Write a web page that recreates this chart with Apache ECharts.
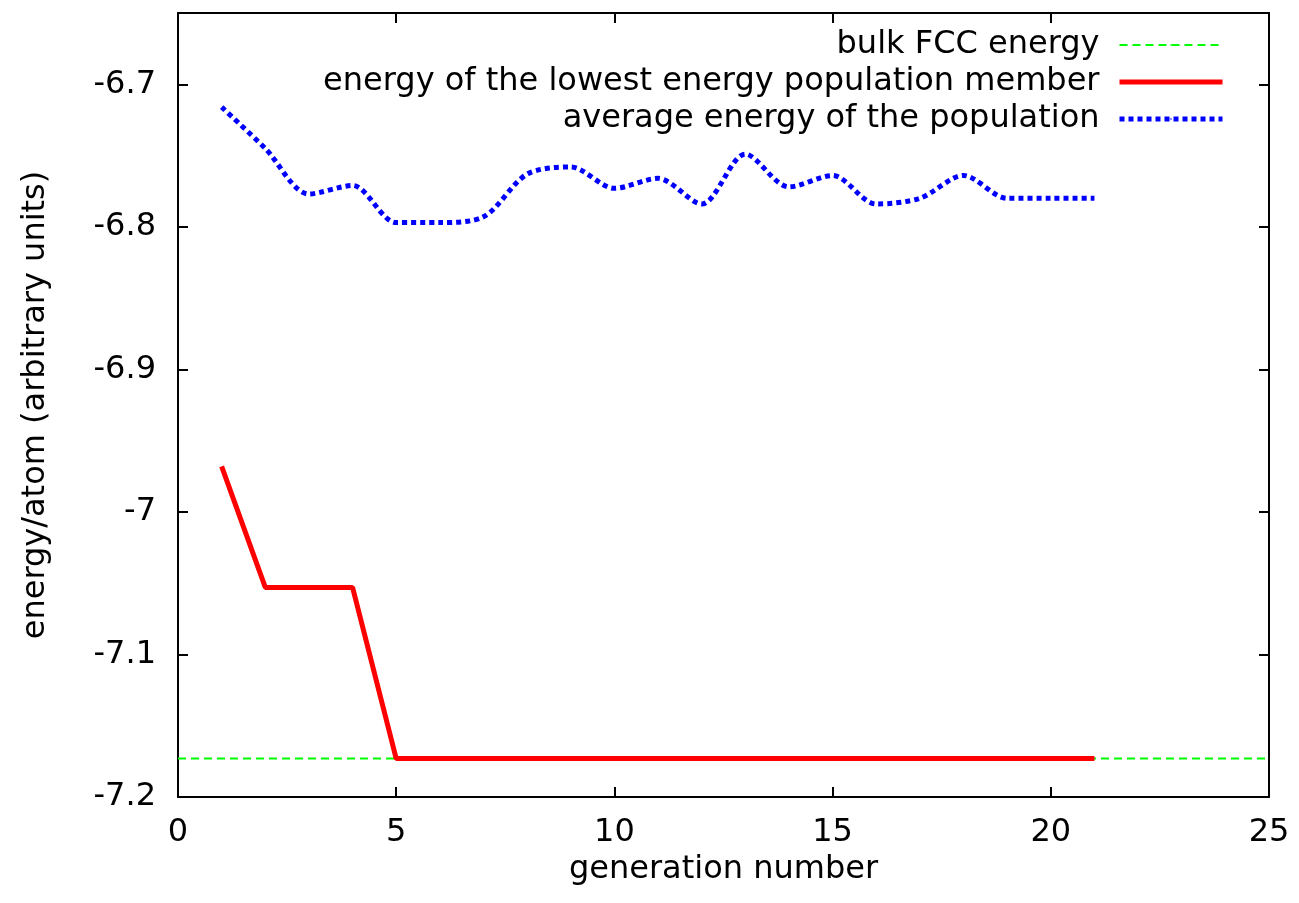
<!doctype html>
<html>
<head>
<meta charset="utf-8">
<script src="https://cdn.jsdelivr.net/npm/echarts@6/dist/echarts.min.js"></script>
<style>
  html, body { margin: 0; padding: 0; background: #fff; }
  #main { width: 1299px; height: 903px; }
</style>
</head>
<body>
<div id="main"></div>
<script>
// generation numbers
var generations = [1, 2, 3, 4, 5, 6, 7, 8, 9, 10, 11, 12, 13, 14, 15, 16, 17, 18, 19, 20, 21];
// energy of the lowest energy population member
var lowestEnergy = [-6.968, -7.053, -7.053, -7.053, -7.173, -7.173, -7.173, -7.173, -7.173, -7.173, -7.173,
                    -7.173, -7.173, -7.173, -7.173, -7.173, -7.173, -7.173, -7.173, -7.173, -7.173];
// average energy of the population
var averageEnergy = [-6.716, -6.745, -6.777, -6.771, -6.797, -6.797, -6.793, -6.763, -6.758, -6.773, -6.766,
                     -6.784, -6.749, -6.772, -6.764, -6.784, -6.780, -6.764, -6.780, -6.780, -6.780];
// bulk FCC reference level, drawn across the whole x range
var bulkX = [0, 25];
var bulkEnergy = -7.173;

var seriesNames = ['bulk FCC energy', 'energy of the lowest energy population member', 'average energy of the population'];

function pairs(xs, ys) {
  var out = [];
  for (var i = 0; i < xs.length; i++) out.push([xs[i], ys[i]]);
  return out;
}

var font = 'DejaVu Sans, sans-serif';
var fs = 32;
var chart = echarts.init(document.getElementById('main'));

var frameAxisLine = { show: true, onZero: false, lineStyle: { color: '#000', width: 2 } };
var frameTick = { show: true, inside: true, length: 10, lineStyle: { color: '#000', width: 2 } };

var option = {
  backgroundColor: '#fff',
  animation: false,
  legend: {
    data: seriesNames,
    orient: 'vertical',
    align: 'right',
    right: 69,
    top: 23,
    itemWidth: 103,
    itemHeight: 2,
    itemGap: 3,
    lineStyle: { width: 'inherit' },
    textStyle: { fontFamily: font, fontSize: fs, color: '#000', lineHeight: 34, padding: [0, 15, 0, 0] }
  },
  grid: { left: 178, right: 30, top: 13, bottom: 106 },
  xAxis: [{
    type: 'value',
    min: 0, max: 25, interval: 5,
    name: 'generation number',
    nameLocation: 'middle',
    nameGap: 50,
    nameTextStyle: { fontFamily: font, fontSize: fs, color: '#000' },
    axisLine: frameAxisLine,
    axisTick: frameTick,
    axisLabel: { fontFamily: font, fontSize: fs, color: '#000', margin: 20 },
    splitLine: { show: false }
  }, {
    type: 'value',
    position: 'top',
    min: 0, max: 25, interval: 5,
    axisLine: frameAxisLine,
    axisTick: frameTick,
    axisLabel: { show: false },
    splitLine: { show: false }
  }],
  yAxis: [{
    type: 'value',
    min: -7.2, max: -6.65, interval: 0.1,
    name: 'energy/atom (arbitrary units)',
    nameLocation: 'middle',
    nameGap: 126,
    nameTextStyle: { fontFamily: font, fontSize: fs, color: '#000' },
    axisLine: frameAxisLine,
    axisTick: frameTick,
    axisLabel: { fontFamily: font, fontSize: fs, color: '#000', margin: 22, showMaxLabel: false },
    splitLine: { show: false }
  }, {
    type: 'value',
    position: 'right',
    min: -7.2, max: -6.65, interval: 0.1,
    axisLine: frameAxisLine,
    axisTick: frameTick,
    axisLabel: { show: false },
    splitLine: { show: false }
  }],
  series: [{
    name: seriesNames[0],
    type: 'line',
    data: pairs(bulkX, [bulkEnergy, bulkEnergy]),
    showSymbol: false,
    symbol: 'none',
    itemStyle: { color: '#00ff00' },
    lineStyle: { color: '#00ff00', width: 2, type: [8, 5] }
  }, {
    name: seriesNames[1],
    type: 'line',
    data: pairs(generations, lowestEnergy),
    showSymbol: false,
    symbol: 'none',
    itemStyle: { color: '#ff0000' },
    lineStyle: { color: '#ff0000', width: 5 }
  }, {
    name: seriesNames[2],
    type: 'line',
    data: pairs(generations, averageEnergy),
    smooth: 0.3,
    showSymbol: false,
    symbol: 'none',
    itemStyle: { color: '#0000ff' },
    lineStyle: { color: '#0000ff', width: 5, type: [5, 4] }
  }]
};

chart.setOption(option);
</script>
</body>
</html>
